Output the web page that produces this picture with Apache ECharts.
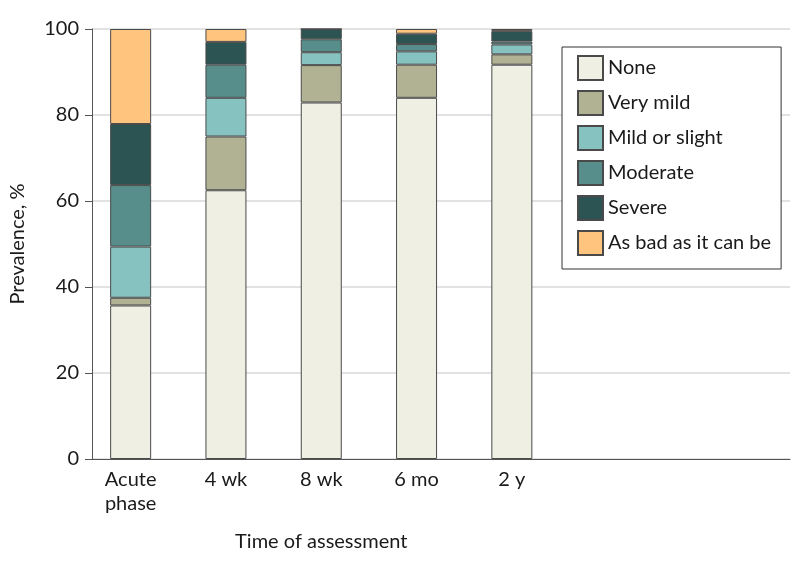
<!DOCTYPE html>
<html>
<head>
<meta charset="utf-8">
<script src="https://cdn.jsdelivr.net/npm/echarts@6/dist/echarts.min.js"></script>
<style>
  html, body { margin: 0; padding: 0; background: #fff; }
  #chart { width: 798px; height: 569px; }
</style>
</head>
<body>
<div id="chart"></div>
<script>
const categories = ['Acute\nphase', '4 wk', '8 wk', '6 mo', '2 y'];
const severityLevels = ['None', 'Very mild', 'Mild or slight', 'Moderate', 'Severe', 'As bad as it can be'];
const none        = [35.7, 62.5, 82.9, 84.0, 91.7];
const veryMild    = [1.8, 12.5, 8.7, 7.7, 2.4];
const mildSlight  = [11.9, 9.0, 3.0, 3.1, 2.3];
const moderate    = [14.3, 7.7, 3.0, 1.7, 0.7];
const severe      = [14.2, 5.3, 2.4, 2.4, 2.4];
const asBad       = [22.1, 3.0, 0.0, 1.1, 0.5];
const yTicks = [0, 20, 40, 60, 80, 100];

const seriesValues = [none, veryMild, mildSlight, moderate, severe, asBad];
const colors = ['#EFF0E3', '#B1B294', '#86C2C0', '#578E8B', '#2B5453', '#FFC57F'];
const FONT = 'Lato';
const TXT = '#1a1a1a';

const chart = echarts.init(document.getElementById('chart'), null, { renderer: 'canvas' });

const option = {
  animation: false,
  backgroundColor: '#fff',
  textStyle: { fontFamily: FONT },
  grid: [
    { left: 80, right: 8, top: 29, bottom: 110, containLabel: false },
    { left: 83, width: 476.5, top: 29, bottom: 110, containLabel: false }
  ],
  legend: {
    orient: 'vertical',
    left: 562,
    top: 47,
    data: severityLevels,
    itemWidth: 25,
    itemHeight: 24,
    itemGap: 9,
    padding: [8, 10, 13, 15],
    borderColor: '#333',
    borderWidth: 1,
    borderRadius: 0,
    backgroundColor: '#fff',
    icon: 'rect',
    selectedMode: false,
    textStyle: { fontFamily: FONT, fontSize: 20, color: TXT }
  },
  xAxis: [
    {
      gridIndex: 0,
      type: 'value',
      min: 0,
      max: 1,
      axisLine: { show: true, lineStyle: { color: '#555', width: 1 } },
      axisTick: { show: false },
      axisLabel: { show: false },
      splitLine: { show: false }
    },
    {
      gridIndex: 1,
      type: 'category',
      data: categories,
      boundaryGap: true,
      axisLine: { show: false },
      axisTick: { show: false },
      splitLine: { show: false },
      axisLabel: {
        interval: 0,
        fontFamily: FONT,
        fontSize: 20,
        lineHeight: 24,
        color: TXT,
        margin: 9
      },
      name: 'Time of assessment',
      nameLocation: 'middle',
      nameGap: 73,
      nameTextStyle: { fontFamily: FONT, fontSize: 20, color: TXT }
    }
  ],
  yAxis: [
    {
      gridIndex: 0,
      type: 'value',
      min: 0,
      max: 100,
      interval: 20,
      axisLine: { show: true, lineStyle: { color: '#555', width: 1 } },
      axisTick: { show: true, length: 7, lineStyle: { color: '#555' } },
      splitLine: { show: true, lineStyle: { color: '#d9d9d9', width: 1.5 } },
      axisLabel: { fontFamily: FONT, fontSize: 20, color: TXT, margin: 13, customValues: yTicks },
      name: 'Prevalence, %',
      nameLocation: 'middle',
      nameGap: 64,
      nameTextStyle: { fontFamily: FONT, fontSize: 20, color: TXT }
    },
    {
      gridIndex: 1,
      type: 'value',
      min: 0,
      max: 100,
      show: false
    }
  ],
  series: severityLevels.map((name, k) => ({
    name: name,
    type: 'bar',
    xAxisIndex: 1,
    yAxisIndex: 1,
    stack: 'total',
    barWidth: 41,
    itemStyle: { color: colors[k], borderColor: '#4a4a4a', borderWidth: 1 },
    emphasis: { disabled: true },
    data: seriesValues[k]
  }))
};
chart.setOption(option);
</script>
</body>
</html>
